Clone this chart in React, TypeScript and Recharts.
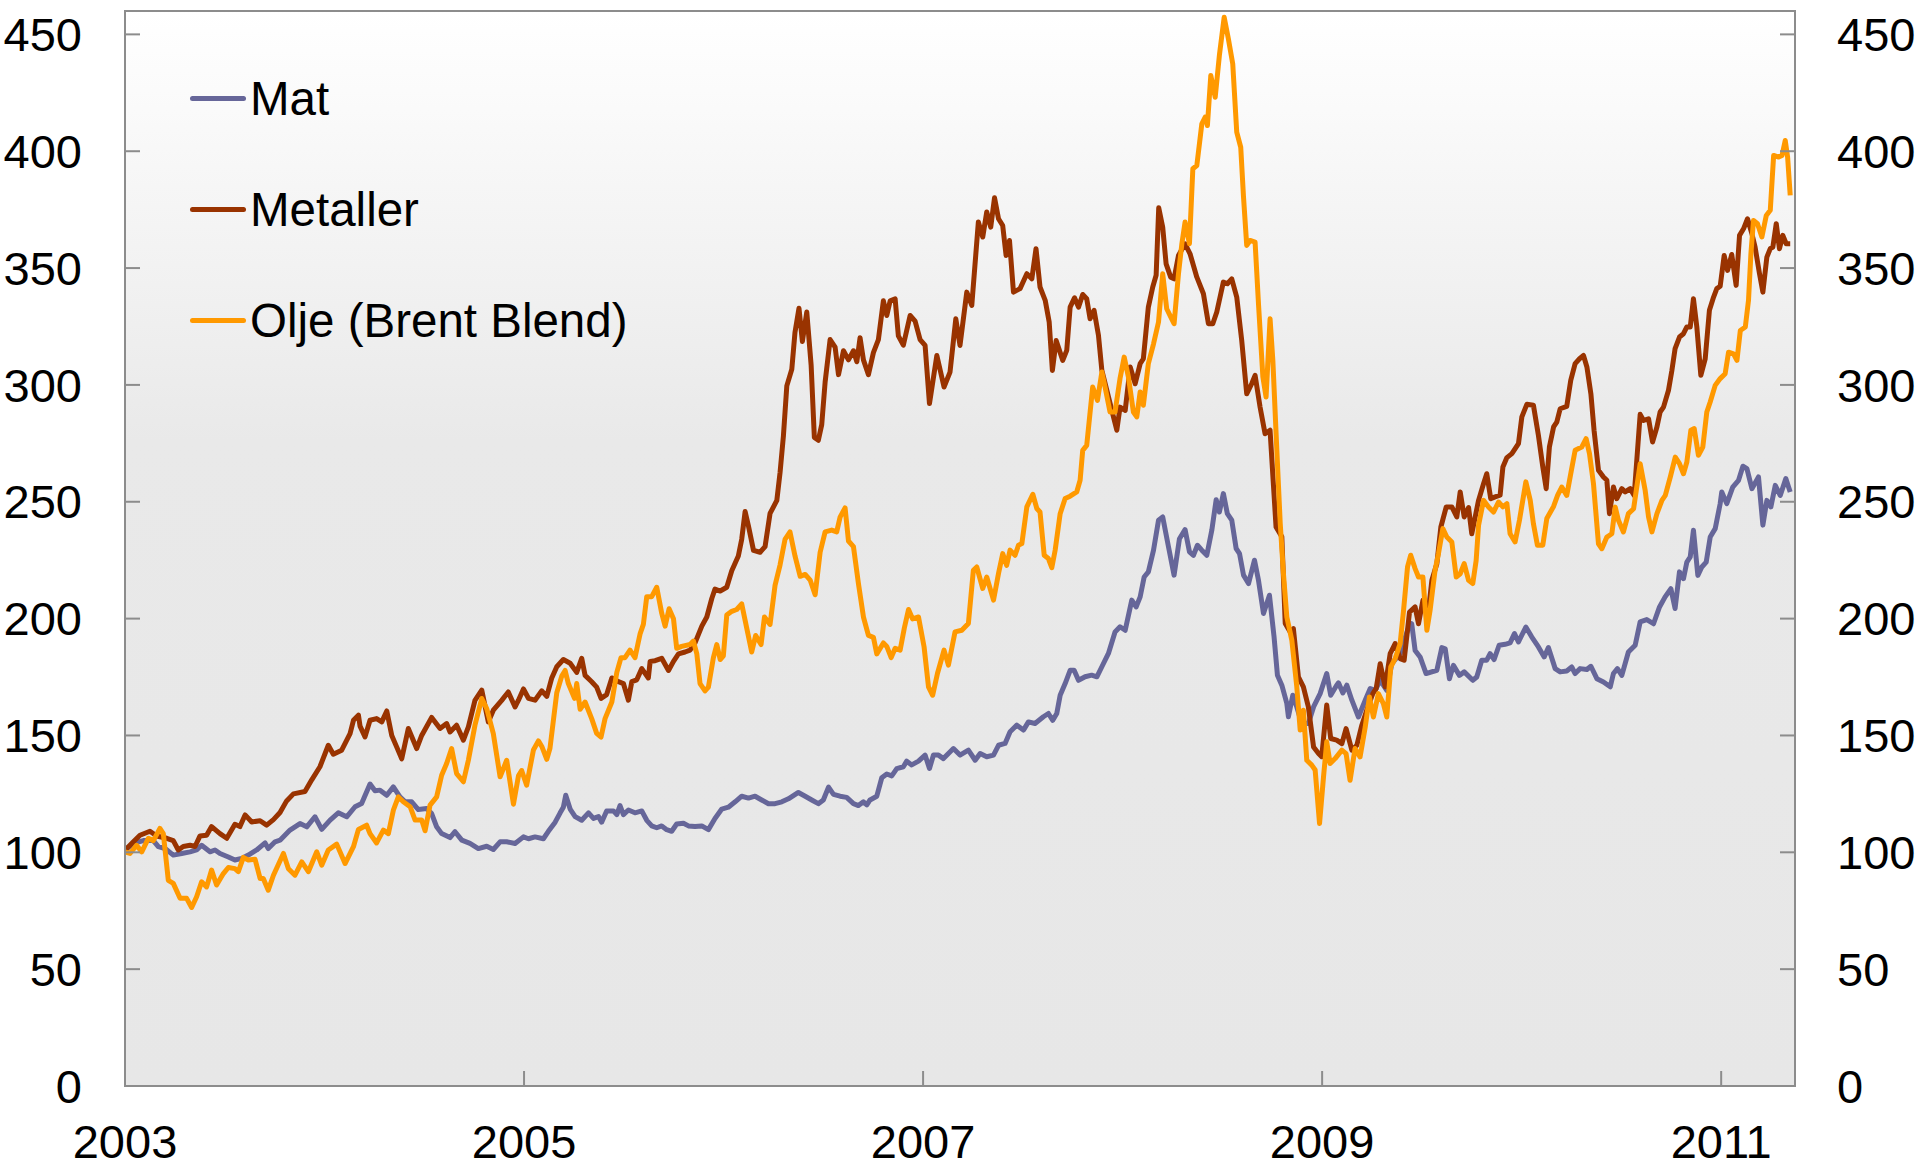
import { LineChart, Line, XAxis, YAxis, ReferenceArea, Legend } from 'recharts';

// Råvarepriser, indeks 2003 = 100. Hver rad: [år (desimal), verdi]
const mat: [number, number][] = [
  [2003.0, 101], [2003.042, 103.8], [2003.092, 105], [2003.142, 105], [2003.167, 102.4], [2003.201, 101.6],
  [2003.242, 98.8], [2003.284, 99.5], [2003.326, 100.2], [2003.359, 101], [2003.384, 103], [2003.426, 100.2],
  [2003.451, 101], [2003.476, 99.5], [2003.518, 98], [2003.551, 96.7], [2003.585, 97.4], [2003.618, 98.8],
  [2003.66, 101], [2003.702, 104], [2003.718, 101.6], [2003.752, 104.5], [2003.777, 105.2], [2003.827, 109.5],
  [2003.877, 112.3], [2003.911, 110.9], [2003.952, 115.2], [2003.986, 109.8], [2004.028, 113.8], [2004.069, 116.9],
  [2004.111, 115.2], [2004.153, 119.5], [2004.186, 120.9], [2004.228, 129.2], [2004.253, 126.3], [2004.278, 126.6],
  [2004.312, 124.4], [2004.345, 128], [2004.378, 123.7], [2004.404, 121.6], [2004.437, 121.6], [2004.47, 118.3],
  [2004.512, 118.7], [2004.537, 116.6], [2004.562, 110.9], [2004.587, 108], [2004.629, 106.3], [2004.654, 108.8],
  [2004.688, 105.2], [2004.729, 103.8], [2004.771, 101.6], [2004.813, 102.6], [2004.846, 101.2], [2004.88, 104.5],
  [2004.913, 104.5], [2004.955, 103.8], [2004.997, 106.6], [2005.022, 105.8], [2005.055, 106.6], [2005.097, 105.8],
  [2005.122, 109], [2005.156, 112.9], [2005.181, 116.9], [2005.197, 119.3], [2005.209, 124.4], [2005.231, 118.5],
  [2005.256, 115.3], [2005.289, 113.7], [2005.323, 116.9], [2005.348, 114.5], [2005.373, 115.3], [2005.389, 112.9],
  [2005.414, 117.7], [2005.448, 117.7], [2005.465, 116.1], [2005.481, 120], [2005.498, 116.1], [2005.523, 118.1],
  [2005.556, 116.9], [2005.59, 117.7], [2005.615, 113.7], [2005.64, 111.3], [2005.665, 110.5], [2005.69, 111.3],
  [2005.715, 109.7], [2005.74, 109], [2005.765, 112.1], [2005.799, 112.4], [2005.824, 111.3], [2005.857, 111],
  [2005.891, 111.3], [2005.924, 109.7], [2005.957, 114.5], [2005.991, 118.5], [2006.024, 119.3], [2006.058, 121.6],
  [2006.091, 124], [2006.125, 123.2], [2006.158, 124], [2006.191, 122.4], [2006.225, 120.8], [2006.258, 120.8],
  [2006.292, 121.6], [2006.325, 122.9], [2006.375, 125.6], [2006.409, 124], [2006.442, 122.4], [2006.475, 120.8],
  [2006.5, 122.4], [2006.526, 127.9], [2006.551, 124.8], [2006.584, 124], [2006.617, 123.5], [2006.651, 120.8],
  [2006.676, 120], [2006.701, 121.6], [2006.718, 120.3], [2006.734, 122.4], [2006.768, 124], [2006.793, 131.9],
  [2006.818, 133.5], [2006.843, 132.7], [2006.868, 135.8], [2006.901, 136.6], [2006.918, 139], [2006.943, 137.4],
  [2006.977, 139], [2007.01, 141.6], [2007.032, 135.9], [2007.052, 141.6], [2007.077, 141.6], [2007.102, 140.1],
  [2007.127, 142.3], [2007.152, 144.4], [2007.185, 141.6], [2007.227, 143.7], [2007.261, 139.4], [2007.286, 142.3],
  [2007.319, 140.9], [2007.353, 141.6], [2007.378, 145.8], [2007.411, 146.6], [2007.436, 151.6], [2007.47, 154.4],
  [2007.503, 152.3], [2007.528, 155.8], [2007.561, 155.1], [2007.603, 158], [2007.628, 159.4], [2007.65, 156.5],
  [2007.67, 159.4], [2007.687, 167.2], [2007.712, 172.2], [2007.737, 177.9], [2007.757, 177.9], [2007.779, 173.6],
  [2007.812, 175.1], [2007.845, 175.8], [2007.871, 175.1], [2007.896, 179.4], [2007.929, 185.1], [2007.962, 194.3],
  [2007.987, 196.5], [2008.013, 195], [2008.046, 207.9], [2008.068, 205], [2008.088, 209.3], [2008.108, 217.8],
  [2008.129, 220], [2008.155, 229.3], [2008.18, 242.1], [2008.201, 243.5], [2008.23, 230.7], [2008.258, 218.6],
  [2008.285, 234.2], [2008.313, 238.1], [2008.335, 228.6], [2008.355, 227.1], [2008.375, 231.4], [2008.397, 229.3],
  [2008.422, 227.1], [2008.447, 237.8], [2008.469, 250.9], [2008.485, 245.6], [2008.505, 253.5], [2008.525, 244.9],
  [2008.547, 242.1], [2008.569, 230], [2008.586, 227.8], [2008.606, 218.6], [2008.631, 215], [2008.661, 225],
  [2008.681, 216.4], [2008.706, 202.2], [2008.736, 210], [2008.759, 192.2], [2008.776, 175.8], [2008.798, 171.5],
  [2008.823, 163.7], [2008.831, 158], [2008.853, 167.2], [2008.873, 162.2], [2008.898, 155.1], [2008.931, 155.1],
  [2008.957, 162.2], [2008.99, 167.9], [2009.023, 176.5], [2009.043, 167.2], [2009.073, 171.5], [2009.082, 172.5],
  [2009.104, 168.2], [2009.124, 171.5], [2009.149, 165.1], [2009.182, 157.9], [2009.216, 165.1], [2009.241, 170.1],
  [2009.266, 169.3], [2009.291, 173.6], [2009.324, 169.3], [2009.349, 180.7], [2009.391, 185], [2009.428, 195],
  [2009.449, 197.8], [2009.466, 186.4], [2009.491, 183.6], [2009.521, 176.5], [2009.575, 177.9], [2009.6, 187.6],
  [2009.617, 187.1], [2009.638, 174.3], [2009.658, 180], [2009.688, 175.7], [2009.712, 177.2], [2009.755, 173.6],
  [2009.775, 175], [2009.8, 182.2], [2009.825, 182.2], [2009.842, 185], [2009.862, 182.5], [2009.887, 188.6],
  [2009.917, 189], [2009.942, 189.6], [2009.964, 193.6], [2009.984, 190], [2010.021, 196.4], [2010.051, 192.1],
  [2010.084, 187.9], [2010.113, 183.6], [2010.134, 187.6], [2010.168, 178.6], [2010.193, 177.2], [2010.226, 177.6],
  [2010.251, 179.3], [2010.268, 176.5], [2010.293, 178.6], [2010.327, 178.2], [2010.347, 179.6], [2010.377, 174.3],
  [2010.41, 172.9], [2010.444, 170.8], [2010.46, 176.5], [2010.48, 178.6], [2010.502, 175.7], [2010.535, 185.7],
  [2010.569, 188.6], [2010.594, 198.6], [2010.627, 199.6], [2010.661, 197.8], [2010.691, 205], [2010.719, 209.3],
  [2010.748, 212.8], [2010.769, 204.3], [2010.791, 220], [2010.811, 217.1], [2010.828, 224.2], [2010.845, 226.4],
  [2010.861, 237.8], [2010.883, 218.5], [2010.903, 222.1], [2010.925, 224.2], [2010.945, 234.9], [2010.97, 238.5],
  [2010.995, 249.2], [2011.003, 254.2], [2011.028, 249.2], [2011.058, 256.3], [2011.087, 259.2], [2011.109, 265.2],
  [2011.129, 264.2], [2011.154, 255.6], [2011.187, 260.6], [2011.209, 240], [2011.229, 250.6], [2011.249, 247.8],
  [2011.271, 257], [2011.296, 252.7], [2011.324, 259.9], [2011.346, 254.2],
];

const metaller: [number, number][] = [
  [2003.0, 100.9], [2003.042, 104.5], [2003.075, 107.3], [2003.125, 109], [2003.159, 107], [2003.209, 106],
  [2003.242, 105], [2003.267, 101], [2003.292, 102.5], [2003.326, 103], [2003.351, 102.5], [2003.376, 107],
  [2003.409, 107.3], [2003.434, 111], [2003.476, 108], [2003.51, 106], [2003.551, 112], [2003.576, 111],
  [2003.602, 116], [2003.635, 113], [2003.677, 113.5], [2003.71, 111.6], [2003.744, 114], [2003.777, 117],
  [2003.81, 122], [2003.844, 125], [2003.902, 126], [2003.936, 131], [2003.977, 136.6], [2004.019, 145.8],
  [2004.044, 142], [2004.086, 143.7], [2004.128, 150.8], [2004.145, 156.5], [2004.17, 158.7], [2004.178, 154],
  [2004.203, 149.4], [2004.228, 156.5], [2004.261, 157.2], [2004.287, 155.8], [2004.312, 160.5], [2004.337, 150],
  [2004.362, 145], [2004.387, 140], [2004.42, 153], [2004.462, 144.4], [2004.487, 150], [2004.537, 157.7],
  [2004.579, 153], [2004.612, 155.1], [2004.629, 151.5], [2004.662, 154.4], [2004.696, 148], [2004.721, 153.7],
  [2004.754, 165], [2004.788, 169.4], [2004.821, 155.8], [2004.846, 160.8], [2004.888, 165], [2004.921, 168.6],
  [2004.955, 162.2], [2004.972, 165.1], [2004.997, 169.9], [2005.022, 165.9], [2005.055, 165.1], [2005.089, 169.1],
  [2005.114, 166.7], [2005.139, 174.6], [2005.164, 179.4], [2005.197, 182.5], [2005.231, 180.9], [2005.264, 177],
  [2005.289, 183], [2005.306, 175.7], [2005.339, 173], [2005.364, 170.7], [2005.386, 165.9], [2005.414, 167.5],
  [2005.44, 174.6], [2005.473, 173], [2005.498, 172.2], [2005.523, 165.1], [2005.54, 173], [2005.565, 173.8],
  [2005.59, 178.6], [2005.623, 174.6], [2005.632, 181.7], [2005.657, 182], [2005.69, 183], [2005.724, 177.8],
  [2005.749, 181.7], [2005.774, 184.9], [2005.807, 185.7], [2005.832, 186.5], [2005.857, 189.6], [2005.891, 196.8],
  [2005.916, 200.7], [2005.941, 208.6], [2005.957, 212.6], [2005.983, 211.8], [2006.016, 213.4], [2006.041, 220.5],
  [2006.074, 226.8], [2006.091, 234], [2006.108, 245.8], [2006.125, 239.5], [2006.15, 229.2], [2006.183, 228.4],
  [2006.208, 230.8], [2006.233, 245], [2006.267, 250.6], [2006.283, 262.4], [2006.3, 278.2], [2006.317, 299.6],
  [2006.342, 306.7], [2006.358, 322.5], [2006.378, 332.8], [2006.395, 318.6], [2006.417, 331.2], [2006.439, 308.3],
  [2006.455, 277.5], [2006.475, 276.3], [2006.492, 283], [2006.509, 301.2], [2006.534, 319.4], [2006.559, 316.2],
  [2006.576, 304.4], [2006.601, 314.6], [2006.626, 310.7], [2006.651, 314.6], [2006.668, 309.9], [2006.684, 320.2],
  [2006.701, 310.7], [2006.726, 304.4], [2006.751, 313.8], [2006.776, 319.4], [2006.801, 336], [2006.818, 329.7],
  [2006.835, 336], [2006.86, 336.8], [2006.876, 321], [2006.901, 317], [2006.935, 329.7], [2006.96, 327.3],
  [2006.985, 319.4], [2007.01, 316.9], [2007.032, 292], [2007.069, 312.6], [2007.105, 299.1], [2007.135, 305.5],
  [2007.164, 328.3], [2007.185, 316.9], [2007.219, 339.7], [2007.244, 334], [2007.277, 369.7], [2007.299, 363.3],
  [2007.319, 374], [2007.339, 367.5], [2007.358, 380.1], [2007.378, 371.1], [2007.399, 368.2], [2007.416, 355.4],
  [2007.433, 361.8], [2007.453, 339.7], [2007.486, 341.2], [2007.52, 347.6], [2007.545, 345.4], [2007.566, 358.3],
  [2007.586, 341.9], [2007.612, 336.2], [2007.632, 326.9], [2007.648, 306.2], [2007.667, 319], [2007.7, 310.5],
  [2007.72, 314.8], [2007.737, 333.3], [2007.759, 337.3], [2007.779, 333.3], [2007.8, 338.7], [2007.82, 336.9],
  [2007.837, 328.3], [2007.857, 331.9], [2007.879, 321.2], [2007.896, 306.2], [2007.921, 297.7], [2007.946, 289.1],
  [2007.971, 280.6], [2007.987, 290.5], [2008.013, 289.1], [2008.038, 307.7], [2008.063, 300.5], [2008.088, 309.1],
  [2008.104, 311.2], [2008.129, 333.3], [2008.151, 341.9], [2008.168, 346.9], [2008.181, 375.8], [2008.201, 367.5],
  [2008.218, 351.8], [2008.241, 346.1], [2008.258, 345.4], [2008.28, 355.4], [2008.313, 360.4], [2008.338, 356.1],
  [2008.372, 346.1], [2008.405, 339], [2008.43, 326.2], [2008.452, 326.2], [2008.472, 331.2], [2008.505, 344],
  [2008.525, 343.3], [2008.547, 345.4], [2008.572, 337.6], [2008.597, 319], [2008.622, 296.2], [2008.647, 300.5],
  [2008.664, 304.1], [2008.689, 290.5], [2008.714, 279.1], [2008.739, 280.6], [2008.769, 239.2], [2008.798, 235],
  [2008.815, 197.9], [2008.84, 194.3], [2008.856, 195.7], [2008.881, 175.1], [2008.906, 170.8], [2008.931, 162.2],
  [2008.957, 145.1], [2008.982, 142.3], [2008.998, 140.9], [2009.023, 163], [2009.043, 148.7], [2009.073, 148],
  [2009.099, 146.5], [2009.12, 152.9], [2009.149, 143.7], [2009.174, 145.8], [2009.199, 154.4], [2009.232, 162.9],
  [2009.254, 167.9], [2009.271, 170.1], [2009.291, 180.7], [2009.316, 170.8], [2009.341, 185], [2009.366, 189.3],
  [2009.391, 182.9], [2009.411, 182.2], [2009.438, 202.8], [2009.466, 205], [2009.483, 197.8], [2009.505, 207.8],
  [2009.533, 203.5], [2009.55, 216.4], [2009.575, 223.5], [2009.595, 239.2], [2009.622, 247.8], [2009.65, 247.8],
  [2009.675, 243.5], [2009.692, 254.2], [2009.712, 243.5], [2009.734, 247.5], [2009.75, 236.3], [2009.784, 250.6],
  [2009.809, 257.7], [2009.825, 262], [2009.845, 251.3], [2009.867, 252.1], [2009.892, 252.8], [2009.906, 264.9],
  [2009.926, 268.9], [2009.951, 270.6], [2009.984, 274.9], [2010.001, 286.3], [2010.026, 291.7], [2010.059, 291.3],
  [2010.084, 278.4], [2010.106, 264.9], [2010.123, 255.6], [2010.139, 273.4], [2010.16, 282], [2010.176, 284.1],
  [2010.193, 289.8], [2010.226, 290.8], [2010.246, 301.9], [2010.268, 309.1], [2010.29, 311.2], [2010.31, 312.6],
  [2010.327, 307.7], [2010.347, 296.2], [2010.363, 280.5], [2010.385, 263.5], [2010.41, 260.6], [2010.427, 259.2],
  [2010.44, 244.9], [2010.46, 256.3], [2010.477, 251.3], [2010.502, 255.6], [2010.519, 254.2], [2010.544, 255.6],
  [2010.564, 252.7], [2010.577, 267.7], [2010.594, 287.4], [2010.611, 284.8], [2010.636, 285.5], [2010.656, 275.6],
  [2010.678, 282], [2010.694, 288.4], [2010.711, 290.5], [2010.736, 297.7], [2010.753, 306.2], [2010.769, 315.5],
  [2010.791, 320.5], [2010.811, 321.9], [2010.828, 324.8], [2010.845, 324.8], [2010.861, 336.9], [2010.878, 324.8],
  [2010.898, 304.1], [2010.92, 311.2], [2010.941, 331.9], [2010.962, 337.6], [2010.978, 341.2], [2010.995, 342.2],
  [2011.015, 355.4], [2011.032, 349], [2011.053, 355.8], [2011.075, 342.6], [2011.092, 364], [2011.112, 366.8],
  [2011.132, 371.1], [2011.154, 364.7], [2011.17, 359], [2011.192, 347.6], [2011.209, 339.7], [2011.229, 354.7],
  [2011.246, 358.3], [2011.259, 359], [2011.276, 369], [2011.292, 358.3], [2011.309, 364], [2011.326, 360.4],
  [2011.346, 360.4],
];

const olje: [number, number][] = [
  [2003.0, 100.2], [2003.025, 99.5], [2003.058, 103], [2003.084, 100.2], [2003.117, 106], [2003.142, 105],
  [2003.175, 110.2], [2003.192, 108], [2003.217, 88], [2003.242, 86.7], [2003.276, 80.3], [2003.309, 80.3],
  [2003.334, 76.4], [2003.359, 81], [2003.384, 87.4], [2003.409, 85.2], [2003.434, 92.4], [2003.459, 86],
  [2003.493, 90.9], [2003.518, 93.5], [2003.551, 93], [2003.568, 91.7], [2003.593, 97.8], [2003.618, 96.7],
  [2003.652, 97], [2003.677, 88.8], [2003.693, 88.8], [2003.718, 83.8], [2003.744, 90.2], [2003.794, 99.5],
  [2003.819, 93], [2003.852, 90.2], [2003.886, 95.9], [2003.919, 91.7], [2003.961, 100.2], [2003.986, 94.5],
  [2004.019, 101], [2004.061, 103.5], [2004.103, 95.2], [2004.145, 102.4], [2004.17, 109.8], [2004.211, 111.6],
  [2004.228, 108], [2004.261, 104], [2004.295, 109.5], [2004.32, 108], [2004.345, 118], [2004.37, 123.7],
  [2004.395, 121.6], [2004.429, 119.5], [2004.454, 113.8], [2004.487, 113.8], [2004.504, 109.2], [2004.529, 120.2],
  [2004.562, 123.7], [2004.587, 133], [2004.612, 138], [2004.637, 144.4], [2004.662, 133.7], [2004.696, 130.2],
  [2004.721, 139.4], [2004.754, 154.4], [2004.788, 165.8], [2004.813, 161.5], [2004.846, 150.8], [2004.88, 132.3],
  [2004.913, 139.4], [2004.947, 120.6], [2004.972, 132.7], [2004.988, 135], [2005.013, 128.7], [2005.047, 143.8],
  [2005.072, 147.7], [2005.089, 145.3], [2005.114, 139.8], [2005.13, 144.5], [2005.164, 168.3], [2005.189, 175.4],
  [2005.206, 177.8], [2005.222, 172.2], [2005.253, 165.9], [2005.264, 172.2], [2005.281, 161.2], [2005.306, 164.3],
  [2005.339, 157.2], [2005.364, 150.9], [2005.386, 149.3], [2005.406, 157.2], [2005.44, 164.3], [2005.465, 177],
  [2005.486, 183.3], [2005.506, 183.3], [2005.531, 186.5], [2005.556, 183.3], [2005.582, 193.6], [2005.598, 197.5],
  [2005.615, 209.4], [2005.64, 209.4], [2005.665, 213.4], [2005.69, 202.3], [2005.707, 196.8], [2005.727, 204.2],
  [2005.749, 199.9], [2005.765, 187.3], [2005.79, 188.1], [2005.832, 188.9], [2005.849, 190.4], [2005.866, 184.9],
  [2005.882, 172.2], [2005.907, 169.1], [2005.924, 170.7], [2005.949, 183.3], [2005.966, 188.9], [2005.983, 182.5],
  [2005.999, 184.1], [2006.016, 201.5], [2006.041, 203.1], [2006.066, 203.9], [2006.091, 206.3], [2006.116, 196],
  [2006.141, 185.7], [2006.161, 192.8], [2006.188, 188.9], [2006.205, 200.7], [2006.233, 197.5], [2006.258, 214.2],
  [2006.283, 222.9], [2006.308, 233.9], [2006.333, 237.1], [2006.358, 226.8], [2006.384, 218.1], [2006.409, 218.9],
  [2006.434, 216.5], [2006.459, 210.2], [2006.484, 228.4], [2006.509, 237.1], [2006.542, 237.9], [2006.567, 237.1],
  [2006.584, 243.4], [2006.609, 247.4], [2006.626, 233.2], [2006.651, 230.8], [2006.676, 215], [2006.701, 200.7],
  [2006.726, 192.8], [2006.751, 192], [2006.768, 184.9], [2006.801, 189.6], [2006.818, 188.1], [2006.84, 183.3],
  [2006.86, 187.3], [2006.885, 186.5], [2006.906, 196], [2006.927, 203.9], [2006.947, 199.9], [2006.977, 200.7],
  [2007.005, 187.9], [2007.027, 170.8], [2007.048, 167.2], [2007.072, 176.5], [2007.105, 186.5], [2007.127, 180.1],
  [2007.16, 194.3], [2007.194, 195], [2007.227, 197.9], [2007.252, 220.7], [2007.269, 222.1], [2007.299, 212.9],
  [2007.319, 217.8], [2007.353, 207.9], [2007.378, 219.3], [2007.399, 227.8], [2007.419, 222.8], [2007.436, 229.3],
  [2007.461, 227.1], [2007.478, 231.4], [2007.495, 232.1], [2007.52, 247.8], [2007.55, 253.2], [2007.57, 247.1],
  [2007.586, 245.6], [2007.607, 227.1], [2007.628, 225.7], [2007.645, 221.8], [2007.662, 229.3], [2007.687, 244.9],
  [2007.712, 251.4], [2007.737, 252.4], [2007.77, 254.2], [2007.787, 259.2], [2007.8, 272], [2007.82, 274.1],
  [2007.85, 299.1], [2007.874, 293.4], [2007.896, 305.5], [2007.912, 299.1], [2007.937, 288.4], [2007.962, 288.4],
  [2007.987, 302.7], [2008.008, 311.9], [2008.029, 303.4], [2008.054, 288.4], [2008.071, 286.3], [2008.088, 297],
  [2008.104, 291.3], [2008.129, 309.1], [2008.155, 317.6], [2008.18, 326.9], [2008.201, 347.6], [2008.221, 332.6],
  [2008.241, 329.1], [2008.258, 326.2], [2008.28, 347.6], [2008.297, 360.4], [2008.313, 369.7], [2008.335, 360.4],
  [2008.352, 392.5], [2008.372, 393.9], [2008.397, 411.7], [2008.414, 414.6], [2008.425, 411], [2008.442, 432.4],
  [2008.464, 423.1], [2008.485, 441], [2008.509, 457.3], [2008.53, 448.1], [2008.552, 437.4], [2008.572, 408.2],
  [2008.592, 401.7], [2008.606, 380.4], [2008.622, 359.7], [2008.639, 361.8], [2008.664, 361.1], [2008.681, 334.7],
  [2008.703, 303.4], [2008.719, 294.8], [2008.739, 328.3], [2008.753, 310.5], [2008.773, 272], [2008.79, 240.7],
  [2008.806, 219.3], [2008.823, 200.7], [2008.848, 190.8], [2008.873, 170.8], [2008.89, 152.3], [2008.906, 160.8],
  [2008.923, 139.4], [2008.948, 137.3], [2008.965, 135.2], [2008.987, 112.3], [2009.007, 132.3], [2009.023, 147.3],
  [2009.04, 138], [2009.065, 140.1], [2009.099, 143.7], [2009.12, 142.2], [2009.14, 130.8], [2009.165, 144.4],
  [2009.19, 140.8], [2009.216, 153.6], [2009.237, 166.5], [2009.257, 157.9], [2009.282, 167.9], [2009.307, 163.6],
  [2009.324, 157.9], [2009.344, 179.3], [2009.366, 182.9], [2009.391, 189.3], [2009.408, 203.5], [2009.428, 222.1],
  [2009.444, 227.1], [2009.466, 221.4], [2009.483, 217.8], [2009.505, 217.8], [2009.525, 195], [2009.541, 203.5],
  [2009.566, 220.7], [2009.583, 227.8], [2009.605, 238.5], [2009.625, 234.9], [2009.65, 232.8], [2009.672, 217.8],
  [2009.692, 219.2], [2009.712, 223.5], [2009.734, 216.4], [2009.755, 215], [2009.772, 224.9], [2009.784, 239.9],
  [2009.809, 250.6], [2009.834, 247.8], [2009.859, 245.6], [2009.884, 249.9], [2009.906, 247.8], [2009.926, 249.2],
  [2009.942, 236.3], [2009.967, 232.8], [2009.989, 242.1], [2010.021, 258.5], [2010.043, 250.6], [2010.059, 240.6],
  [2010.079, 231.4], [2010.106, 231.4], [2010.126, 242.8], [2010.16, 248], [2010.18, 252.7], [2010.201, 256.3],
  [2010.226, 252.7], [2010.246, 262], [2010.268, 272], [2010.301, 273.4], [2010.323, 277], [2010.34, 270.6],
  [2010.36, 257.7], [2010.385, 232], [2010.402, 229.9], [2010.427, 234.9], [2010.452, 236.3], [2010.469, 247.7],
  [2010.485, 242.1], [2010.51, 237.1], [2010.535, 244.9], [2010.561, 247], [2010.594, 266.3], [2010.619, 254.9],
  [2010.636, 243.5], [2010.653, 237.1], [2010.678, 244.9], [2010.703, 250.6], [2010.72, 252.7], [2010.745, 260.6],
  [2010.77, 269.1], [2010.791, 266.3], [2010.811, 262], [2010.828, 267], [2010.848, 280.6], [2010.865, 281.3],
  [2010.886, 269.9], [2010.908, 273.4], [2010.928, 288.4], [2010.945, 292.7], [2010.97, 299.8], [2010.995, 302.7],
  [2011.02, 304.8], [2011.037, 314], [2011.062, 313.3], [2011.079, 310.5], [2011.096, 323.3], [2011.121, 324.8],
  [2011.137, 336.2], [2011.149, 356.1], [2011.162, 370.4], [2011.182, 369], [2011.204, 363.3], [2011.226, 372.5],
  [2011.246, 374.7], [2011.263, 398.2], [2011.288, 397.5], [2011.305, 398.2], [2011.321, 404.6], [2011.333, 397.5],
  [2011.346, 381.1],
];

const yearTicks = [2003, 2005, 2007, 2009, 2011];
const valueTicks = [0, 50, 100, 150, 200, 250, 300, 350, 400, 450];

const series = [
  { name: 'Mat', color: '#666699', data: mat },
  { name: 'Metaller', color: '#993300', data: metaller },
  { name: 'Olje (Brent Blend)', color: '#FF9900', data: olje },
];

const FONT = '"Liberation Sans", Arial, Helvetica, sans-serif';
const AXIS = '#8c8c8c';
const tickStyle = { fill: '#000', fontSize: 47, fontFamily: FONT };

const LegendBox = () => (
  <div style={{ fontFamily: FONT, fontSize: 47.5, color: '#000', textAlign: 'left' }}>
    {series.map((s) => (
      <div key={s.name} style={{ height: 111, display: 'flex', alignItems: 'center', whiteSpace: 'nowrap' }}>
        <span style={{ display: 'inline-block', width: 56, height: 5, borderRadius: 3, background: s.color, marginRight: 4 }} />
        <span style={{ lineHeight: 1 }}>{s.name}</span>
      </div>
    ))}
  </div>
);

export default function App() {
  return (
    <div>
      <style>{'body{margin:0;background:#fff}'}</style>
      <LineChart width={1920} height={1168} margin={{ top: 11, right: 0, bottom: 0, left: 0 }}>
        <defs>
          <linearGradient id="plotBg" x1="0" y1="0" x2="0" y2="1">
            <stop offset="0%" stopColor="#ffffff" />
            <stop offset="40%" stopColor="#e9e9e9" />
            <stop offset="100%" stopColor="#e7e7e7" />
          </linearGradient>
        </defs>
        <XAxis
          type="number"
          dataKey="year"
          domain={[2003, 2011.37]}
          ticks={yearTicks}
          allowDataOverflow
          height={82}
          stroke={AXIS}
          strokeWidth={2}
          tickSize={-15}
          tickMargin={54}
          tick={tickStyle}
        />
        <YAxis
          yAxisId="l"
          domain={[0, 460]}
          ticks={valueTicks}
          allowDataOverflow
          width={125}
          stroke={AXIS}
          strokeWidth={2}
          tickSize={-15}
          tickMargin={58}
          tick={tickStyle}
        />
        <YAxis
          yAxisId="r"
          orientation="right"
          domain={[0, 460]}
          ticks={valueTicks}
          allowDataOverflow
          width={125}
          stroke={AXIS}
          strokeWidth={2}
          tickSize={-15}
          tickMargin={57}
          tick={{ ...tickStyle, textAnchor: 'start' }}
        />
        <ReferenceArea yAxisId="l" x1={2003} x2={2011.37} y1={0} y2={460} fill="url(#plotBg)" fillOpacity={1} stroke={AXIS} strokeWidth={2} />
        <Legend
          layout="vertical"
          verticalAlign="middle"
          align="center"
          wrapperStyle={{ left: 190, top: 43, width: 'auto', height: 'auto' }}
          content={<LegendBox />}
        />
        {series.map((s) => (
          <Line
            key={s.name}
            yAxisId="l"
            name={s.name}
            data={s.data.map(([year, v]) => ({ year, v }))}
            dataKey="v"
            type="linear"
            stroke={s.color}
            strokeWidth={5}
            strokeLinejoin="round"
            dot={false}
            activeDot={false}
            isAnimationActive={false}
          />
        ))}
      </LineChart>
    </div>
  );
}
